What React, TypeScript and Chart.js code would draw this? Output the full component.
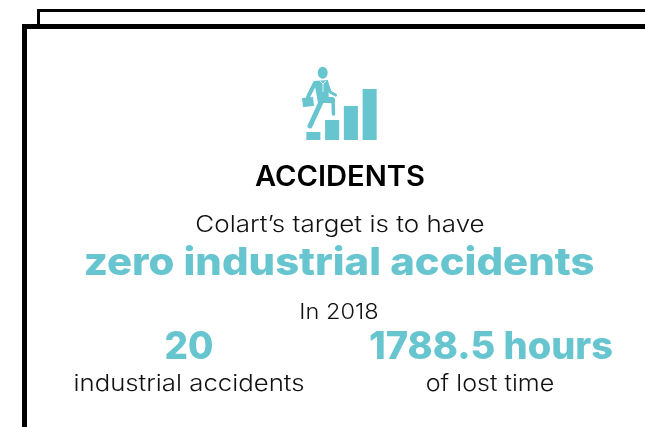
import React, { useEffect, useRef } from "react";
import { Chart, registerables } from "chart.js";

Chart.register(...registerables);

const stepLabels = ["1", "2", "3", "4"];
const stepValues = [8, 20, 34, 51];
const TEAL = "#67c5d0";
const HEAVY = "Inter, Lato, sans-serif";
const LIGHT = "Inter, Lato, sans-serif";

type TextSpec = { t: string; cx: number; y: number; size: number; weight: number; color: string; sx: number; font: string };
const texts: TextSpec[] = [
  { t: "ACCIDENTS", cx: 339.5, y: 186, size: 28, weight: 600, color: "#000", sx: 1.04, font: HEAVY },
  { t: "Colart\u2019s target is to have", cx: 339.5, y: 233, size: 23, weight: 300, color: "#111", sx: 1.13, font: LIGHT },
  { t: "zero industrial accidents", cx: 338.5, y: 275, size: 38, weight: 800, color: TEAL, sx: 1.1, font: HEAVY },
  { t: "In 2018", cx: 339, y: 319, size: 22, weight: 300, color: "#111", sx: 1.07, font: LIGHT },
  { t: "20", cx: 189, y: 359, size: 38, weight: 800, color: TEAL, sx: 0.97, font: HEAVY },
  { t: "1788.5 hours", cx: 491, y: 359, size: 38, weight: 800, color: TEAL, sx: 1, font: HEAVY },
  { t: "industrial accidents", cx: 188.5, y: 392, size: 23, weight: 300, color: "#111", sx: 1.12, font: LIGHT },
  { t: "of lost time", cx: 489.5, y: 392, size: 23, weight: 300, color: "#111", sx: 1.09, font: LIGHT },
];

export default function App() {
  const ref = useRef<HTMLCanvasElement>(null);
  useEffect(() => {
    document.body.style.margin = "0";
    document.body.style.overflow = "hidden";
    const chart = new Chart(ref.current!, {
      type: "bar",
      data: {
        labels: stepLabels,
        datasets: [{ data: stepValues, backgroundColor: TEAL, borderWidth: 0, categoryPercentage: 1, barPercentage: 0.75 }],
      },
      options: {
        animation: false,
        responsive: false,
        plugins: { legend: { display: false }, tooltip: { enabled: false } },
        layout: { padding: 0 },
        scales: {
          x: { display: false },
          y: { display: false, min: 0, max: 51 },
        },
      },
    });
    return () => chart.destroy();
  }, []);

  return (
    <div style={{ position: "relative", width: 645, height: 427, overflow: "hidden", background: "#fff" }}>
      <div style={{ position: "absolute", left: 37, top: 9, width: 700, height: 100, borderLeft: "3px solid #000", borderTop: "3px solid #000" }} />
      <div style={{ position: "absolute", left: 22, top: 24, width: 700, height: 500, background: "#fff", borderLeft: "5px solid #000", borderTop: "5px solid #000" }} />
      <canvas ref={ref} width={75} height={51} style={{ position: "absolute", left: 304, top: 89, width: 75, height: 51 }} />
      <svg width={645} height={427} style={{ position: "absolute", left: 0, top: 0, pointerEvents: "none" }}>
        <g fill={TEAL}>
          <ellipse cx={322.7} cy={72.7} rx={5} ry={6} />
          <path d="M314 81 L328 80 L329 102 L318 103 Z" />
          <path d="M302 98 L313 97 L314 106 L303 107 Z" />
        </g>
        <g stroke={TEAL} fill="none" strokeLinecap="round" strokeLinejoin="round">
          <path d="M322 100 L310 126" strokeWidth={5} />
          <path d="M323 100 L332 100" strokeWidth={6} />
          <path d="M333 100 L333.5 114" strokeWidth={3.5} />
          <path d="M327 83 L330 92 L335.5 95" strokeWidth={3} />
          <path d="M315 83 L308 97" strokeWidth={4} />
        </g>
        <path d="M320 81 L323 84 L326 81 M323 84 L323 92" stroke="#fff" strokeWidth={0.8} fill="none" />
      </svg>
      {texts.map((s) => (
        <div
          key={s.t}
          style={{
            position: "absolute",
            left: s.cx - 320,
            width: 640,
            top: s.y - s.size * 0.86,
            lineHeight: `${s.size}px`,
            height: s.size,
            textAlign: "center",
            whiteSpace: "nowrap",
            fontFamily: s.font,
            fontSize: s.size,
            fontWeight: s.weight,
            color: s.color,
            transform: `scaleX(${s.sx})`,
          }}
        >
          {s.t}
        </div>
      ))}
    </div>
  );
}
